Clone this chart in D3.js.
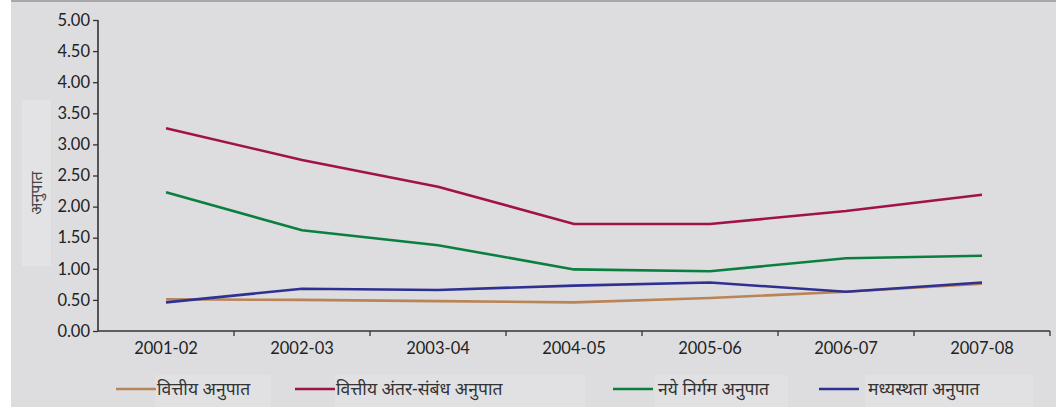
<!DOCTYPE html>
<html>
<head>
<meta charset="utf-8">
<script src="https://cdn.jsdelivr.net/npm/d3@7"></script>
<style>
  body { margin:0; background:#fff; }
  svg { display:block; }
</style>
</head>
<body>
<svg></svg>
<script>
// size of the picture and plot area
const width = 1056,
  height = 407,
  margin = { top: 20, bottom: 76, left: 98, right: 6 };

// data
const years = ['2001-02','2002-03','2003-04','2004-05','2005-06','2006-07','2007-08'];
const seriesNames = ['वित्तीय अनुपात','वित्तीय अंतर-संबंध अनुपात','नये निर्गम अनुपात','मध्यस्थता अनुपात'];
const financialRatio = [0.51, 0.50, 0.48, 0.46, 0.53, 0.63, 0.76];
const interrelationRatio = [3.26, 2.75, 2.32, 1.72, 1.72, 1.93, 2.19];
const newIssueRatio = [2.23, 1.62, 1.38, 0.99, 0.96, 1.17, 1.21];
const intermediationRatio = [0.46, 0.68, 0.66, 0.73, 0.78, 0.63, 0.78];
const yTicks = [0, 0.5, 1, 1.5, 2, 2.5, 3, 3.5, 4, 4.5, 5];
const colors = ['#b98457', '#a1124a', '#0b7f3f', '#2e3192'];

const allSeries = [financialRatio, interrelationRatio, newIssueRatio, intermediationRatio];

const svg = d3.select('svg')
  .attr('width', width)
  .attr('height', height);

// grey background with a thin top rule
svg.append('rect').attr('x', 11).attr('y', 0).attr('width', width - 11).attr('height', height).attr('fill', '#dddddf');
svg.append('rect').attr('x', 11).attr('y', 0).attr('width', width - 11).attr('height', 2).attr('fill', '#a8a8aa');

const plotW = width - margin.left - margin.right,
  plotH = height - margin.top - margin.bottom;

const g = svg.append('g').attr('transform', `translate(${margin.left},${margin.top})`);

const xScale = d3.scaleBand().domain(years).range([0, plotW]);
const yScale = d3.scaleLinear().domain([0, 5]).range([plotH, 0]);

// axes
const yAxis = g.append('g')
  .call(d3.axisLeft(yScale).tickValues(yTicks).tickFormat(d3.format('.2f')).tickSize(5).tickPadding(3));

// x axis: ticks sit between categories
const xAxis = g.append('g')
  .attr('transform', `translate(0,${plotH})`)
  .call(d3.axisBottom(xScale).tickSize(0).tickPadding(11));
xAxis.selectAll('.boundary')
  .data(d3.range(1, years.length + 1))
  .join('line')
  .attr('class', 'boundary')
  .attr('x1', i => i * xScale.step()).attr('x2', i => i * xScale.step())
  .attr('y1', 0).attr('y2', 5);

[yAxis, xAxis].forEach(ax => {
  ax.select('.domain').attr('stroke', '#333').attr('stroke-width', 1.6);
  ax.selectAll('line').attr('stroke', '#333').attr('stroke-width', 1.3);
  ax.selectAll('text').attr('fill', '#222').style('font-family', 'Lato, sans-serif').style('font-size', '16.5px');
});
xAxis.select('.domain').attr('d', `M0,0H${plotW}`);
yAxis.select('.domain').attr('d', `M0,0V${plotH}`);

// y axis title with its pale box
svg.append('rect').attr('x', 22).attr('y', 100).attr('width', 29).attr('height', 166).attr('fill', '#e3e3e5');
svg.append('text')
  .attr('transform', 'translate(42,193) rotate(-90)')
  .attr('text-anchor', 'middle')
  .style('font-family', 'Noto Sans, sans-serif')
  .style('font-size', '16px')
  .attr('fill', '#444')
  .text('अनुपात');

// lines
const line = d3.line()
  .x((d, i) => xScale(years[i]) + xScale.bandwidth() / 2)
  .y(d => yScale(d));

g.selectAll('.series')
  .data(allSeries)
  .join('path')
  .attr('class', 'series')
  .attr('fill', 'none')
  .attr('stroke', (d, i) => colors[i])
  .attr('stroke-width', 2.6)
  .attr('d', line);

// legend
const legendX = [116, 295, 613, 819];
const legendBoxes = [[155, 271], [335, 585], [655, 788], [865, 1033]];
const legend = svg.append('g');
seriesNames.forEach((name, i) => {
  legend.append('rect')
    .attr('x', legendBoxes[i][0]).attr('y', 375)
    .attr('width', legendBoxes[i][1] - legendBoxes[i][0]).attr('height', 32)
    .attr('fill', '#e1e1e3');
  legend.append('line')
    .attr('x1', legendX[i]).attr('x2', legendX[i] + 40)
    .attr('y1', 389).attr('y2', 389)
    .attr('stroke', colors[i]).attr('stroke-width', 2.6);
  legend.append('text')
    .attr('x', legendX[i] + (i == 3 ? 49 : i == 2 ? 45 : 41))
    .attr('y', 395)
    .style('font-family', 'Noto Sans, sans-serif')
    .style('font-size', '17.5px')
    .attr('fill', '#333')
    .text(name);
});
</script>
</body>
</html>
